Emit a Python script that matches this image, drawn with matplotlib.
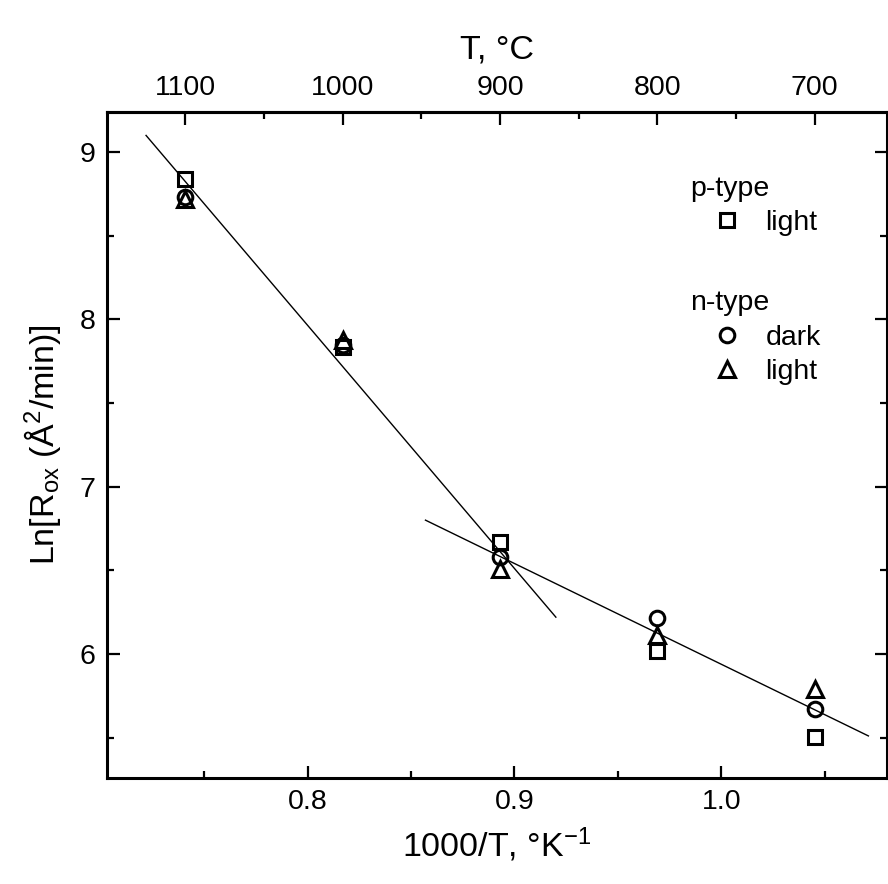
import numpy as np
import matplotlib.pyplot as plt
from matplotlib.lines import Line2D

plt.rcParams['font.family'] = ['Liberation Sans', 'DejaVu Sans']
plt.rcParams['mathtext.fontset'] = 'custom'
plt.rcParams['mathtext.rm'] = 'Liberation Sans'
plt.rcParams['mathtext.it'] = 'Liberation Sans:italic'

# Data
inv_T = [0.741, 0.817, 0.893, 0.969, 1.045]     # 1000/T, 1/K
temp_C = [1100, 1000, 900, 800, 700]            # top axis labels
temp_minor = [1050, 950, 850, 750]
p_light = [8.84, 7.835, 6.67, 6.02, 5.505]
n_dark = [8.73, 7.85, 6.58, 6.215, 5.67]
n_light = [8.72, 7.875, 6.51, 6.115, 5.79]

# fitted lines (end points)
fit_hi_x = [0.722, 0.920]
fit_hi_y = [9.10, 6.22]
fit_lo_x = [0.857, 1.071]
fit_lo_y = [6.80, 5.51]

fig = plt.figure(figsize=(8.88, 8.84), dpi=100)
ax = fig.add_axes([0.1202, 0.1202, 0.8787, 0.7531])

ax.plot(fit_hi_x, fit_hi_y, color='black', lw=1.0)
ax.plot(fit_lo_x, fit_lo_y, color='black', lw=1.0)

mk = dict(ls='none', mfc='none', mec='black', mew=2.2)
ax.plot(inv_T, n_dark, marker='o', ms=10.5, **mk)
ax.plot(inv_T, n_light, marker='^', ms=12, **mk)
ax.plot(inv_T, p_light, marker='s', ms=9.5, **mk)

ax.set_xlim(0.703, 1.080)
ax.set_ylim(5.26, 9.24)
ax.set_xticks([0.8, 0.9, 1.0])
ax.set_xticks([0.75, 0.85, 0.95, 1.05], minor=True)
ax.set_xticklabels(['0.8', '0.9', '1.0'])
ax.set_yticks([6, 7, 8, 9])
ax.set_yticks([5.5, 6.5, 7.5, 8.5], minor=True)

for s in ax.spines.values():
    s.set_linewidth(2.2)
ax.tick_params(which='both', direction='in', right=True, top=False, width=1.6)
ax.tick_params(which='major', length=9, labelsize=20.5, pad=8)
ax.tick_params(which='minor', length=5)

# top axis in degrees C (linear in T on this plot)
slope = (inv_T[-1] - inv_T[0]) / (temp_C[-1] - temp_C[0])
def x2T(x):
    return temp_C[0] + (np.asarray(x) - inv_T[0]) / slope
def T2x(t):
    return inv_T[0] + (np.asarray(t) - temp_C[0]) * slope

sec = ax.secondary_xaxis('top', functions=(x2T, T2x))
sec.set_xticks(temp_C)
sec.set_xticks(temp_minor, minor=True)
sec.spines['top'].set_linewidth(2.2)
sec.tick_params(which='both', direction='in', width=1.6)
sec.tick_params(which='major', length=9, labelsize=20.5, pad=8)
sec.tick_params(which='minor', length=5)
sec.set_xlabel('T, °C', fontsize=24.5, labelpad=12)

ax.set_xlabel('1000/T, °K$^{-1}$', fontsize=24.5, labelpad=8)
ax.set_ylabel(r'Ln[R$_{\rm ox}$ (Å$^2$/min)]', fontsize=24.5, labelpad=12)

# legend blocks
sq = Line2D([], [], marker='s', ms=9.5, **mk)
ci = Line2D([], [], marker='o', ms=10.5, **mk)
tr = Line2D([], [], marker='^', ms=12, **mk)
leg_kw = dict(frameon=False, fontsize=20.5, title_fontsize=20.5, alignment='left',
              handlelength=2.6, handletextpad=0.05, borderpad=0, labelspacing=0.3,
              loc='upper left', numpoints=1)
leg1 = ax.legend([sq], ['light'], title='p-type', bbox_to_anchor=(0.729, 0.926), **leg_kw)
ax.add_artist(leg1)
ax.legend([ci, tr], ['dark', 'light'], title='n-type', bbox_to_anchor=(0.729, 0.754), **leg_kw)

fig.savefig('out.png', dpi=100)
